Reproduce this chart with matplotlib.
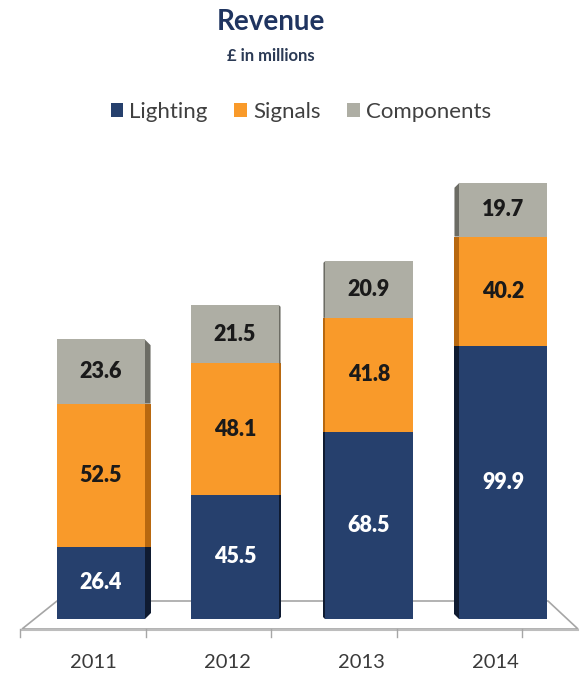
import numpy as np
import matplotlib.pyplot as plt
from matplotlib.patches import Polygon, Patch

plt.rcParams['font.family'] = ['Lato', 'DejaVu Sans']

years = ['2011', '2012', '2013', '2014']
series = ['Lighting', 'Signals', 'Components']
lighting = [26.4, 45.5, 68.5, 99.9]
signals = [52.5, 48.1, 41.8, 40.2]
components = [23.6, 21.5, 20.9, 19.7]

colors = ['#26406D', '#F99A2A', '#AEAEA4']
side_colors = ['#0F1B31', '#B8680F', '#6C6C64']
label_colors = ['white', '#1a1a1a', '#1a1a1a']

# pseudo-3D side depth in pixels (positive = right side, negative = left side)
side_px = [6, 2, -2, -5]
px_x = 134.0   # pixels per category
px_y = 2.73    # pixels per million

fig = plt.figure(figsize=(5.8, 6.73), dpi=100)
ax = fig.add_axes([0, 33 / 673, 1, 470 / 673])
ax.set_xlim(-101 / px_x, 479 / px_x)
ax.set_ylim(-21 / px_y, 449 / px_y)
ax.axis('off')

# floor
fy_front = -10 / px_y
fy_back = 18 / px_y
floor = Polygon([(-79 / px_x, fy_front), (-44 / px_x, fy_back), (447 / px_x, fy_back), (477 / px_x, fy_front)],
                closed=True, facecolor='white', edgecolor='#A6A6A6', lw=1.2, zorder=1)
ax.add_patch(floor)
ax.plot([-79 / px_x, 477 / px_x], [fy_front - 1 / px_y] * 2, color='#BDBDBD', lw=1.5, zorder=1)
for tx in np.linspace(-81, 421, 5) / px_x:
    ax.plot([tx, tx], [fy_front, fy_front - 8 / px_y], color='#A6A6A6', lw=1, zorder=1)

x = np.arange(len(years))
width = 0.65
data = [lighting, signals, components]
bottom = np.zeros(len(years))
totals = np.sum(data, axis=0)
for k, vals in enumerate(data):
    vals = np.array(vals)
    ax.bar(x, vals, width, bottom=bottom, color=colors[k], zorder=3, linewidth=0)
    for i in range(len(years)):
        b, t = bottom[i], bottom[i] + vals[i]
        d = side_px[i]
        dx, dy = abs(d) / px_x, abs(d) / px_y
        edge = x[i] + width / 2 if d > 0 else x[i] - width / 2
        outer = edge + dx if d > 0 else edge - dx
        poly = Polygon([(edge, b), (edge, t), (outer, min(t, totals[i] - dy)), (outer, max(b, dy))],
                       closed=True, facecolor=side_colors[k], edgecolor='none', zorder=2)
        ax.add_patch(poly)
        ax.text(x[i], b + vals[i] / 2, f'{vals[i]:.1f}', ha='center', va='center',
                fontsize=15.5, fontweight='heavy', color=label_colors[k], zorder=4)
    bottom += vals

for i, yr in enumerate(years):
    ax.text(x[i] - 0.06, -43 / px_y, yr, ha='center', va='center', fontsize=14.5, color='#3A3A3A')

fig.text(271 / 580, 1 - 22 / 673, 'Revenue', ha='center', va='center', fontsize=20,
         fontweight='bold', color='#1F3460')
fig.text(271 / 580, 1 - 56 / 673, '£ in millions', ha='center', va='center', fontsize=12,
         fontweight='bold', color='#2B3A55')

handles = [Patch(facecolor=c, edgecolor='none') for c in colors]
fig.legend(handles, series, loc='center', bbox_to_anchor=(301 / 580, 1 - 112 / 673), ncol=3,
           frameon=False, fontsize=16, handlelength=0.55, handleheight=0.55, handletextpad=0.3,
           columnspacing=1.2, labelcolor='#404040')

fig.savefig('out.png', dpi=100)
